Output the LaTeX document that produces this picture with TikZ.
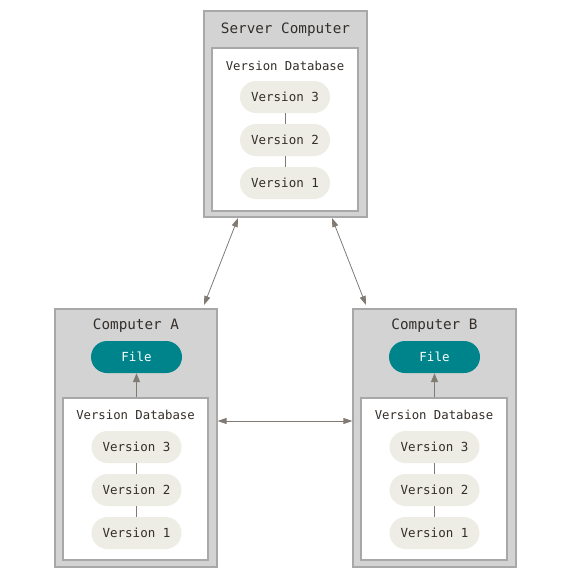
\documentclass[tikz,border=0pt]{standalone}
\usepackage{fontspec}
\setmonofont{DejaVu Sans Mono}
\usetikzlibrary{arrows.meta}
\definecolor{boxgray}{RGB}{211,211,211}
\definecolor{boxedge}{RGB}{168,168,168}
\definecolor{pill}{RGB}{238,237,229}
\definecolor{teal1}{RGB}{0,132,139}
\definecolor{txt}{RGB}{51,46,42}
\definecolor{arr}{RGB}{128,122,115}
\tikzset{
  outerbox/.style={draw=boxedge,fill=boxgray,line width=1.2pt,inner sep=0pt},
  innerbox/.style={draw=boxedge,fill=white,line width=1.2pt,inner sep=0pt},
  title/.style={font=\ttfamily\fontsize{14.3}{16}\selectfont,text=txt},
  dbtitle/.style={font=\ttfamily\fontsize{12.3}{14}\selectfont,text=txt},
  verpill/.style={fill=pill,rounded corners=16pt,minimum width=90pt,minimum height=32pt,inner sep=0pt,font=\ttfamily\fontsize{12.5}{14}\selectfont,text=txt},
  filepill/.style={fill=teal1,rounded corners=16pt,minimum width=91pt,minimum height=32pt,inner sep=0pt,font=\ttfamily\fontsize{12.5}{14}\selectfont,text=white},
  vline/.style={draw=arr,line width=0.8pt},
  biarrow/.style={draw=arr,line width=0.8pt,{Triangle[length=9pt,width=6pt]}-{Triangle[length=9pt,width=6pt]}},
  onearrow/.style={draw=arr,line width=1.3pt,-{Triangle[length=9pt,width=7pt]}}
}
\begin{document}
\begin{tikzpicture}[x=1pt,y=-1pt]
\useasboundingbox (0,0) rectangle (575,581);
% Server
\node[outerbox,minimum width=163pt,minimum height=206pt] (srv) at (285.5,114) {};
\node[innerbox,minimum width=146pt,minimum height=163pt] (srvdb) at (285,129.5) {};
\node[title] (srvt) at (285.5,30) {Server Computer};
\node[dbtitle] (srvdbt) at (285,66) {Version Database};
\node[verpill] (s3) at (285,97) {Version 3};
\node[verpill] (s2) at (285,140) {Version 2};
\node[verpill] (s1) at (285,183) {Version 1};
\draw[vline] (s3.south) -- (s2.north);
\draw[vline] (s2.south) -- (s1.north);
% Computer A
\node[outerbox,minimum width=162pt,minimum height=258pt] (ca) at (136,438) {};
\node[title] (cat) at (136,326) {Computer A};
\node[filepill] (fa) at (136.5,357) {File};
\node[innerbox,minimum width=145pt,minimum height=162pt] (dba) at (135.5,479) {};
\node[dbtitle] (dbat) at (135.5,415) {Version Database};
\node[verpill] (a3) at (136.5,447) {Version 3};
\node[verpill] (a2) at (136.5,490) {Version 2};
\node[verpill] (a1) at (136.5,533) {Version 1};
\draw[vline] (a3.south) -- (a2.north);
\draw[vline] (a2.south) -- (a1.north);
\draw[onearrow] (dba.north -| fa.south) -- (fa.south);
% Computer B
\node[outerbox,minimum width=163pt,minimum height=258pt] (cb) at (434.5,438) {};
\node[title] (cbt) at (434.5,326) {Computer B};
\node[filepill] (fb) at (434.5,357) {File};
\node[innerbox,minimum width=146pt,minimum height=162pt] (dbb) at (434,479) {};
\node[dbtitle] (dbbt) at (434,415) {Version Database};
\node[verpill] (b3) at (434.5,447) {Version 3};
\node[verpill] (b2) at (434.5,490) {Version 2};
\node[verpill] (b1) at (434.5,533) {Version 1};
\draw[vline] (b3.south) -- (b2.north);
\draw[vline] (b2.south) -- (b1.north);
\draw[onearrow] (dbb.north -| fb.south) -- (fb.south);
% connectors
\coordinate (sa) at (238,218);
\coordinate (as) at (204,305);
\coordinate (sb) at (332,218);
\coordinate (bs) at (366,305);
\draw[biarrow] (sa) -- (as);
\draw[biarrow] (sb) -- (bs);
\draw[biarrow] (ca.east |- 0,421) -- (cb.west |- 0,421);
\end{tikzpicture}
\end{document}
